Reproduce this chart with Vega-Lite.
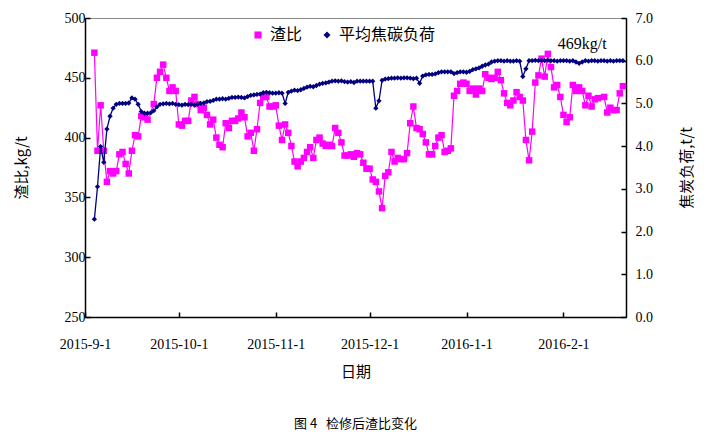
{
 "$schema": "https://vega.github.io/schema/vega-lite/v6.json",
 "width": 541,
 "height": 299,
 "autosize": {"type": "none"},
 "padding": {"left": 85, "top": 18, "right": 81, "bottom": 118},
 "background": "white",
 "config": {
  "font": "Liberation Serif",
  "view": {"stroke": "#888888", "strokeWidth": 1},
  "axis": {"grid": false, "domainColor": "black", "domainWidth": 1.5, "tickColor": "black", "tickWidth": 1.5, "labelColor": "black", "titleColor": "black", "labelFont": "Liberation Serif", "titleFont": "Noto Sans CJK SC", "labelFontSize": 14, "titleFontSize": 15, "titleFontWeight": "normal"}
 },
 "title": {"text": "图 4\u00a0\u00a0\u00a0检修后渣比变化", "orient": "bottom", "anchor": "middle", "font": "Noto Sans CJK SC", "fontSize": 13, "fontWeight": "normal", "color": "black", "offset": 39},
 "datasets": {
  "slag": [
   {"d":"2015/09/04","v":471},{"d":"2015/09/05","v":389},{"d":"2015/09/06","v":427},{"d":"2015/09/07","v":389},{"d":"2015/09/08","v":363},{"d":"2015/09/09","v":372},{"d":"2015/09/10","v":370},{"d":"2015/09/11","v":372},{"d":"2015/09/12","v":386},{"d":"2015/09/13","v":388},{"d":"2015/09/14","v":378},{"d":"2015/09/15","v":370},{"d":"2015/09/16","v":389},{"d":"2015/09/17","v":402},{"d":"2015/09/18","v":401},{"d":"2015/09/19","v":418},{"d":"2015/09/20","v":417},{"d":"2015/09/21","v":415},{"d":"2015/09/23","v":428},{"d":"2015/09/24","v":450},{"d":"2015/09/25","v":455},{"d":"2015/09/26","v":461},{"d":"2015/09/27","v":450},{"d":"2015/09/28","v":439},{"d":"2015/09/29","v":442},{"d":"2015/09/30","v":439},
   {"d":"2015/10/01","v":411},{"d":"2015/10/02","v":410},{"d":"2015/10/03","v":414},{"d":"2015/10/04","v":414},{"d":"2015/10/05","v":431},{"d":"2015/10/06","v":434},{"d":"2015/10/07","v":428},{"d":"2015/10/08","v":423},{"d":"2015/10/09","v":425},{"d":"2015/10/10","v":419},{"d":"2015/10/11","v":411},{"d":"2015/10/12","v":415},{"d":"2015/10/13","v":400},{"d":"2015/10/14","v":394},{"d":"2015/10/15","v":392},{"d":"2015/10/16","v":412},{"d":"2015/10/17","v":408},{"d":"2015/10/18","v":414},{"d":"2015/10/19","v":414},{"d":"2015/10/20","v":416},{"d":"2015/10/21","v":421},{"d":"2015/10/22","v":417},{"d":"2015/10/23","v":401},{"d":"2015/10/24","v":404},{"d":"2015/10/25","v":389},{"d":"2015/10/26","v":407},{"d":"2015/10/27","v":429},{"d":"2015/10/28","v":434},{"d":"2015/10/29","v":434},{"d":"2015/10/30","v":426},{"d":"2015/10/31","v":426},
   {"d":"2015/11/01","v":427},{"d":"2015/11/02","v":410},{"d":"2015/11/03","v":398},{"d":"2015/11/04","v":411},{"d":"2015/11/05","v":404},{"d":"2015/11/06","v":393},{"d":"2015/11/07","v":380},{"d":"2015/11/08","v":376},{"d":"2015/11/09","v":380},{"d":"2015/11/10","v":383},{"d":"2015/11/11","v":388},{"d":"2015/11/12","v":392},{"d":"2015/11/13","v":383},{"d":"2015/11/14","v":398},{"d":"2015/11/15","v":400},{"d":"2015/11/16","v":395},{"d":"2015/11/17","v":393},{"d":"2015/11/18","v":394},{"d":"2015/11/19","v":393},{"d":"2015/11/20","v":408},{"d":"2015/11/21","v":404},{"d":"2015/11/22","v":396},{"d":"2015/11/23","v":385},{"d":"2015/11/24","v":385},{"d":"2015/11/25","v":386},{"d":"2015/11/26","v":384},{"d":"2015/11/27","v":387},{"d":"2015/11/28","v":386},{"d":"2015/11/29","v":379},{"d":"2015/11/30","v":374},
   {"d":"2015/12/01","v":374},{"d":"2015/12/02","v":365},{"d":"2015/12/03","v":363},{"d":"2015/12/04","v":355},{"d":"2015/12/05","v":341},{"d":"2015/12/06","v":368},{"d":"2015/12/07","v":371},{"d":"2015/12/08","v":388},{"d":"2015/12/09","v":380},{"d":"2015/12/10","v":383},{"d":"2015/12/11","v":382},{"d":"2015/12/12","v":382},{"d":"2015/12/13","v":387},{"d":"2015/12/14","v":412},{"d":"2015/12/15","v":426},{"d":"2015/12/16","v":408},{"d":"2015/12/17","v":407},{"d":"2015/12/18","v":403},{"d":"2015/12/19","v":396},{"d":"2015/12/20","v":386},{"d":"2015/12/21","v":386},{"d":"2015/12/22","v":393},{"d":"2015/12/23","v":400},{"d":"2015/12/24","v":402},{"d":"2015/12/25","v":388},{"d":"2015/12/26","v":389},{"d":"2015/12/27","v":391},{"d":"2015/12/28","v":435},{"d":"2015/12/29","v":439},{"d":"2015/12/30","v":445},{"d":"2015/12/31","v":446},
   {"d":"2016/01/01","v":445},{"d":"2016/01/02","v":439},{"d":"2016/01/03","v":441},{"d":"2016/01/04","v":436},{"d":"2016/01/05","v":441},{"d":"2016/01/06","v":439},{"d":"2016/01/07","v":453},{"d":"2016/01/08","v":450},{"d":"2016/01/09","v":449},{"d":"2016/01/10","v":450},{"d":"2016/01/11","v":455},{"d":"2016/01/12","v":448},{"d":"2016/01/13","v":437},{"d":"2016/01/14","v":429},{"d":"2016/01/15","v":427},{"d":"2016/01/16","v":431},{"d":"2016/01/17","v":438},{"d":"2016/01/18","v":434},{"d":"2016/01/19","v":431},{"d":"2016/01/20","v":398},{"d":"2016/01/21","v":381},{"d":"2016/01/22","v":405},{"d":"2016/01/23","v":446},{"d":"2016/01/24","v":452},{"d":"2016/01/25","v":466},{"d":"2016/01/26","v":451},{"d":"2016/01/27","v":470},{"d":"2016/01/28","v":459},{"d":"2016/01/29","v":442},{"d":"2016/01/30","v":444},{"d":"2016/01/31","v":434},
   {"d":"2016/02/01","v":419},{"d":"2016/02/02","v":413},{"d":"2016/02/03","v":417},{"d":"2016/02/04","v":444},{"d":"2016/02/05","v":439},{"d":"2016/02/06","v":442},{"d":"2016/02/07","v":439},{"d":"2016/02/08","v":427},{"d":"2016/02/09","v":435},{"d":"2016/02/10","v":426},{"d":"2016/02/11","v":432},{"d":"2016/02/12","v":433},{"d":"2016/02/14","v":434},{"d":"2016/02/15","v":421},{"d":"2016/02/16","v":425},{"d":"2016/02/17","v":423},{"d":"2016/02/18","v":423},{"d":"2016/02/19","v":437},{"d":"2016/02/20","v":443}
  ],
  "coke": [
   {"d":"2015/09/04","v":2.29},{"d":"2015/09/05","v":3.05},{"d":"2015/09/06","v":3.99},{"d":"2015/09/07","v":3.62},{"d":"2015/09/08","v":4.40},{"d":"2015/09/09","v":4.70},{"d":"2015/09/10","v":4.89},{"d":"2015/09/11","v":4.98},{"d":"2015/09/12","v":5.00},{"d":"2015/09/13","v":5.00},{"d":"2015/09/14","v":5.00},{"d":"2015/09/15","v":5.01},{"d":"2015/09/16","v":5.13},{"d":"2015/09/17","v":5.10},{"d":"2015/09/18","v":4.98},{"d":"2015/09/19","v":4.81},{"d":"2015/09/20","v":4.77},{"d":"2015/09/21","v":4.77},{"d":"2015/09/22","v":4.78},{"d":"2015/09/23","v":4.83},{"d":"2015/09/24","v":4.92},{"d":"2015/09/25","v":4.98},{"d":"2015/09/26","v":4.99},{"d":"2015/09/27","v":5.00},{"d":"2015/09/28","v":4.99},{"d":"2015/09/29","v":5.00},{"d":"2015/09/30","v":4.98},
   {"d":"2015/10/01","v":4.97},{"d":"2015/10/02","v":4.96},{"d":"2015/10/03","v":4.98},{"d":"2015/10/04","v":4.97},{"d":"2015/10/05","v":4.98},{"d":"2015/10/06","v":4.96},{"d":"2015/10/07","v":4.98},{"d":"2015/10/08","v":5.00},{"d":"2015/10/09","v":5.01},{"d":"2015/10/10","v":5.04},{"d":"2015/10/11","v":5.05},{"d":"2015/10/12","v":5.07},{"d":"2015/10/13","v":5.10},{"d":"2015/10/14","v":5.10},{"d":"2015/10/15","v":5.11},{"d":"2015/10/16","v":5.10},{"d":"2015/10/17","v":5.12},{"d":"2015/10/18","v":5.14},{"d":"2015/10/19","v":5.14},{"d":"2015/10/20","v":5.15},{"d":"2015/10/21","v":5.14},{"d":"2015/10/22","v":5.13},{"d":"2015/10/23","v":5.16},{"d":"2015/10/24","v":5.19},{"d":"2015/10/25","v":5.20},{"d":"2015/10/26","v":5.21},{"d":"2015/10/27","v":5.22},{"d":"2015/10/28","v":5.25},{"d":"2015/10/29","v":5.26},{"d":"2015/10/30","v":5.25},{"d":"2015/10/31","v":5.24},
   {"d":"2015/11/01","v":5.24},{"d":"2015/11/02","v":5.25},{"d":"2015/11/03","v":5.24},{"d":"2015/11/04","v":5.00},{"d":"2015/11/05","v":5.26},{"d":"2015/11/06","v":5.29},{"d":"2015/11/07","v":5.31},{"d":"2015/11/08","v":5.30},{"d":"2015/11/09","v":5.32},{"d":"2015/11/10","v":5.35},{"d":"2015/11/11","v":5.38},{"d":"2015/11/12","v":5.40},{"d":"2015/11/13","v":5.39},{"d":"2015/11/14","v":5.42},{"d":"2015/11/15","v":5.45},{"d":"2015/11/16","v":5.47},{"d":"2015/11/17","v":5.48},{"d":"2015/11/18","v":5.50},{"d":"2015/11/19","v":5.52},{"d":"2015/11/20","v":5.53},{"d":"2015/11/21","v":5.52},{"d":"2015/11/22","v":5.53},{"d":"2015/11/23","v":5.51},{"d":"2015/11/24","v":5.50},{"d":"2015/11/25","v":5.51},{"d":"2015/11/26","v":5.49},{"d":"2015/11/27","v":5.52},{"d":"2015/11/28","v":5.52},{"d":"2015/11/29","v":5.52},{"d":"2015/11/30","v":5.52},
   {"d":"2015/12/01","v":5.52},{"d":"2015/12/02","v":5.52},{"d":"2015/12/03","v":4.89},{"d":"2015/12/04","v":5.06},{"d":"2015/12/05","v":5.54},{"d":"2015/12/06","v":5.57},{"d":"2015/12/07","v":5.58},{"d":"2015/12/08","v":5.59},{"d":"2015/12/09","v":5.59},{"d":"2015/12/10","v":5.60},{"d":"2015/12/11","v":5.59},{"d":"2015/12/12","v":5.60},{"d":"2015/12/13","v":5.60},{"d":"2015/12/14","v":5.59},{"d":"2015/12/15","v":5.58},{"d":"2015/12/16","v":5.59},{"d":"2015/12/17","v":5.47},{"d":"2015/12/18","v":5.64},{"d":"2015/12/19","v":5.67},{"d":"2015/12/20","v":5.68},{"d":"2015/12/21","v":5.68},{"d":"2015/12/22","v":5.69},{"d":"2015/12/23","v":5.72},{"d":"2015/12/24","v":5.74},{"d":"2015/12/25","v":5.74},{"d":"2015/12/26","v":5.74},{"d":"2015/12/27","v":5.74},{"d":"2015/12/28","v":5.70},{"d":"2015/12/29","v":5.72},{"d":"2015/12/30","v":5.74},{"d":"2015/12/31","v":5.74},
   {"d":"2016/01/01","v":5.73},{"d":"2016/01/02","v":5.75},{"d":"2016/01/03","v":5.79},{"d":"2016/01/04","v":5.81},{"d":"2016/01/05","v":5.83},{"d":"2016/01/06","v":5.87},{"d":"2016/01/07","v":5.90},{"d":"2016/01/08","v":5.92},{"d":"2016/01/09","v":5.97},{"d":"2016/01/10","v":5.99},{"d":"2016/01/11","v":6.00},{"d":"2016/01/12","v":6.00},{"d":"2016/01/13","v":5.99},{"d":"2016/01/14","v":6.00},{"d":"2016/01/15","v":5.99},{"d":"2016/01/16","v":5.99},{"d":"2016/01/17","v":6.00},{"d":"2016/01/18","v":5.99},{"d":"2016/01/19","v":5.63},{"d":"2016/01/20","v":5.81},{"d":"2016/01/21","v":6.00},{"d":"2016/01/22","v":6.00},{"d":"2016/01/23","v":6.01},{"d":"2016/01/24","v":6.00},{"d":"2016/01/25","v":6.01},{"d":"2016/01/26","v":6.00},{"d":"2016/01/27","v":6.01},{"d":"2016/01/28","v":6.00},{"d":"2016/01/29","v":6.00},{"d":"2016/01/30","v":5.99},{"d":"2016/01/31","v":6.00},
   {"d":"2016/02/01","v":6.00},{"d":"2016/02/02","v":6.00},{"d":"2016/02/03","v":5.99},{"d":"2016/02/04","v":6.00},{"d":"2016/02/05","v":5.97},{"d":"2016/02/06","v":5.94},{"d":"2016/02/07","v":5.97},{"d":"2016/02/08","v":6.00},{"d":"2016/02/09","v":5.99},{"d":"2016/02/10","v":6.00},{"d":"2016/02/11","v":6.00},{"d":"2016/02/12","v":5.99},{"d":"2016/02/13","v":6.00},{"d":"2016/02/14","v":6.00},{"d":"2016/02/15","v":5.99},{"d":"2016/02/16","v":6.00},{"d":"2016/02/17","v":5.99},{"d":"2016/02/18","v":6.00},{"d":"2016/02/19","v":6.00},{"d":"2016/02/20","v":6.00}
  ]
 },
 "encoding": {
  "x": {
   "field": "d", "type": "temporal",
   "scale": {"domain": [{"year": 2015, "month": 9, "date": 1}, {"year": 2016, "month": 2, "date": 21}]},
   "axis": {
    "values": [{"year": 2015, "month": 9, "date": 1}, {"year": 2015, "month": 10, "date": 1}, {"year": 2015, "month": 11, "date": 1}, {"year": 2015, "month": 12, "date": 1}, {"year": 2016, "month": 1, "date": 1}, {"year": 2016, "month": 2, "date": 1}],
    "format": "%Y-%-m-%-d", "labelFlush": false, "labelOverlap": false,
    "tickSize": -5, "labelPadding": 25, "title": "日期", "titlePadding": 13
   }
  }
 },
 "layer": [
  {
   "data": {"name": "slag"},
   "encoding": {
    "y": {"field": "v", "type": "quantitative", "scale": {"domain": [250, 500], "zero": false},
     "axis": {"orient": "left", "values": [250, 300, 350, 400, 450, 500], "tickSize": -5, "labelPadding": 5, "title": "渣比,kg/t", "titleAngle": -90, "titlePadding": 35}}
   },
   "layer": [
    {"mark": {"type": "line", "color": "#FF00FF", "strokeWidth": 1.2}},
    {"mark": {"type": "point", "filled": true, "size": 42, "opacity": 1},
     "encoding": {
      "color": {"datum": "渣比", "type": "nominal", "scale": {"domain": ["渣比", "平均焦碳负荷"], "range": ["#FF00FF", "#000080"]},
       "legend": {"orient": "none", "legendX": 165, "legendY": 9, "direction": "horizontal", "title": null, "labelFont": "Noto Sans CJK SC", "labelFontSize": 16, "labelColor": "black", "columnPadding": 16, "symbolSize": 50, "symbolStrokeWidth": 0}},
      "shape": {"datum": "渣比", "type": "nominal", "scale": {"domain": ["渣比", "平均焦碳负荷"], "range": ["square", "diamond"]}, "legend": null}
     }},
    {"data": {"values": [{"d": "2016/02/07", "v": 478}]},
     "mark": {"type": "text", "text": "469kg/t", "font": "Liberation Serif", "fontSize": 16, "color": "black", "align": "center", "baseline": "middle"}}
   ]
  },
  {
   "data": {"name": "coke"},
   "encoding": {
    "y": {"field": "v", "type": "quantitative", "scale": {"domain": [0, 7]},
     "axis": {"orient": "right", "values": [0, 1, 2, 3, 4, 5, 6, 7], "format": ".1f", "tickSize": -5, "labelPadding": 14, "title": "焦炭负荷,t/t", "titleAngle": -90, "titlePadding": 42}}
   },
   "layer": [
    {"mark": {"type": "line", "color": "#000080", "strokeWidth": 1.3}},
    {"mark": {"type": "point", "filled": true, "size": 28, "opacity": 1},
     "encoding": {
      "color": {"datum": "平均焦碳负荷", "type": "nominal"},
      "shape": {"datum": "平均焦碳负荷", "type": "nominal"}
     }}
   ]
  }
 ],
 "resolve": {"scale": {"y": "independent"}}
}
